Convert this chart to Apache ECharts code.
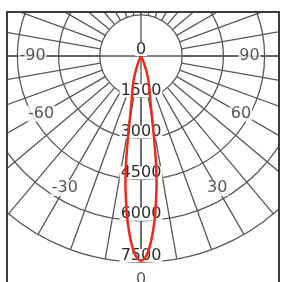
<!DOCTYPE html>
<html>
<head>
<meta charset="utf-8">
<script src="https://cdn.jsdelivr.net/npm/echarts@6/dist/echarts.min.js"></script>
<style>
  html, body { margin: 0; padding: 0; background: #fff; }
  #frame { position: absolute; left: 6px; top: 11px; width: 270px; height: 280px;
           border: 2px solid #3c3c3c; border-bottom: none; overflow: hidden; }
  #chart { width: 270px; height: 280px; }
</style>
</head>
<body>
<div id="frame"><div id="chart"></div></div>
<script>
// beam angle (deg, 0 = straight down) and luminous intensity (cd)
var beamAngles = [-26, -23, -20, -17, -15, -13, -11, -10, -9, -8, -7, -6, -5, -4, -3, -2, -1, 0,
                  1, 2, 3, 4, 5, 6, 7, 8, 9, 10, 11, 13, 15, 17, 20, 23, 26];
var beamIntensity = [0, 250, 550, 900, 1150, 1450, 1900, 2350, 3050, 3900, 4650, 5250, 5850, 6350, 6800, 7150, 7380, 7450,
                     7380, 7150, 6800, 6350, 5850, 5250, 4650, 3900, 3050, 2350, 1900, 1450, 1150, 900, 550, 250, 0];

// angle labels and the radius (cd) they sit at
var angleLabels = ['-90', '-60', '-30', '0', '30', '60', '90'];
var angleLabelAngles = [-90, -60, -30, 0, 30, 60, 90];
var angleLabelRadius = [3950, 4200, 5550, 8150, 5550, 4200, 3950];

var radiusMax = 7500;
var radiusStep = 1500;

var textColor = '#2e2e2e';
var gridColor = '#585858';
var font = 'DejaVu Sans';

function toAxisAngle(a) { return a < 0 ? a + 360 : a; }

var beamData = [];
for (var i = 0; i < beamAngles.length; i++) {
  beamData.push([beamIntensity[i], toAxisAngle(beamAngles[i])]);
}
var labelData = [];
for (var j = 0; j < angleLabels.length; j++) {
  labelData.push({ name: angleLabels[j], value: [angleLabelRadius[j], toAxisAngle(angleLabelAngles[j])] });
}

var center = [133, 43];
var outerR = 206;

var chart = echarts.init(document.getElementById('chart'));
chart.setOption({
  animation: false,
  polar: [
    { center: center, radius: [outerR / 5, outerR] },
    { center: center, radius: outerR }
  ],
  angleAxis: [{
    polarIndex: 0, type: 'value', min: 0, max: 360, interval: 10,
    startAngle: 270, clockwise: false,
    axisLine: { show: false }, axisTick: { show: false }, axisLabel: { show: false },
    splitLine: { show: true, lineStyle: { color: gridColor, width: 1.3 } }
  }, {
    polarIndex: 1, type: 'value', min: 0, max: 360, interval: 90,
    startAngle: 270, clockwise: false,
    axisLine: { show: false }, axisTick: { show: false }, axisLabel: { show: false },
    splitLine: { show: true, lineStyle: { color: gridColor, width: 1.3 } }
  }],
  radiusAxis: [{
    polarIndex: 0, type: 'value', min: radiusStep, max: radiusMax, interval: radiusStep,
    axisLine: { show: false }, axisTick: { show: false }, axisLabel: { show: false },
    splitLine: { show: true, lineStyle: { color: gridColor, width: 1.3 } }
  }, {
    polarIndex: 1, type: 'value', min: 0, max: radiusMax, interval: radiusStep,
    axisLine: { show: false }, axisTick: { show: false },
    splitLine: { show: false },
    axisLabel: {
      margin: 0, align: 'center', verticalAlign: 'bottom', lineHeight: 13,
      fontSize: 16, fontFamily: font, color: textColor,
      backgroundColor: '#fff', padding: [0, 1, 0, 1],
      formatter: function (v) { return String(v); }
    }
  }],
  series: [{
    type: 'line',
    coordinateSystem: 'polar',
    polarIndex: 1,
    data: beamData,
    smooth: 0.3,
    symbol: 'none',
    lineStyle: { color: '#f0281a', width: 2.5 },
    z: 5
  }, {
    type: 'scatter',
    coordinateSystem: 'polar',
    polarIndex: 1,
    clip: false,
    data: labelData,
    symbolSize: 0,
    label: {
      show: true, position: 'inside', formatter: '{b}',
      fontSize: 16, fontFamily: font, color: textColor,
      backgroundColor: '#fff', padding: [0, 1, 0, 1]
    },
    z: 3
  }]
});
</script>
</body>
</html>
